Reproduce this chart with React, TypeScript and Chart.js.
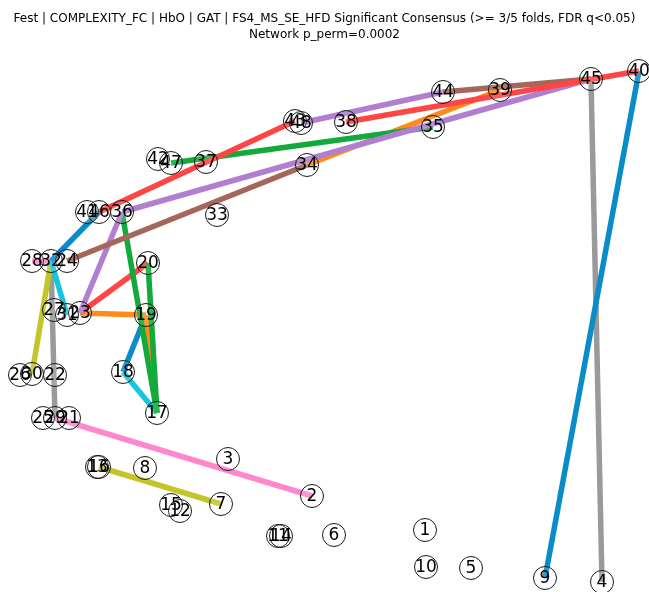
import React, { useEffect, useRef } from "react";
import { Chart, registerables } from "chart.js";

Chart.register(...registerables);

const WIDTH = 649;
const HEIGHT = 592;

const TITLE_LINES = [
  "Fest | COMPLEXITY_FC | HbO | GAT | FS4_MS_SE_HFD Significant Consensus (>= 3/5 folds, FDR q<0.05)",
  "Network p_perm=0.0002",
];
const TITLE_SIZE = 12;
const TITLE_LINE_HEIGHT = 1.4;
const TITLE_PAD_TOP = 10;
const PLOT_TOP = TITLE_PAD_TOP + TITLE_LINES.length * TITLE_SIZE * TITLE_LINE_HEIGHT;

// Node layout (channel id -> position in layout units)
const nodeIds = [
  1, 2, 3, 4, 5, 6, 7, 8, 9, 10, 11, 12, 13, 14, 15, 16, 17, 18, 19, 20, 21, 22, 23, 24,
  25, 26, 27, 28, 29, 30, 31, 32, 33, 34, 35, 36, 37, 38, 39, 40, 41, 42, 43, 44, 45, 46, 47, 48,
];
const nodeX = [
  425, 312, 228, 602, 471, 334, 221, 145, 545, 426, 278, 180, 97, 281, 171, 99, 157, 123, 146, 148, 69, 55, 80, 67,
  43, 20, 54, 32, 55, 32, 67, 51, 217, 307, 433, 122, 206, 346, 500, 639, 87, 158, 295, 443, 591, 99, 171, 301,
];
const nodeY = [
  530, 496, 459, 582, 568, 535, 504, 468, 578, 567, 536, 511, 467, 536, 505, 467, 413, 372, 315, 263, 418, 375, 313, 261,
  418, 375, 310, 261, 418, 374, 315, 261, 215, 165, 127, 212, 162, 122, 90, 71, 212, 159, 121, 92, 79, 212, 163, 123,
];

// Significant edges (source, target, colour)
const edgeFrom = [38, 40, 45, 44, 48, 36, 46, 47, 34, 24, 46, 36, 36, 20, 23, 23, 19, 19, 18, 32, 28, 32, 32, 29, 16];
const edgeTo = [40, 9, 4, 45, 44, 45, 43, 35, 39, 34, 32, 23, 17, 17, 20, 19, 17, 18, 17, 31, 32, 30, 29, 2, 7];
const edgeColors = [
  "#ff4545", "#0a8cc8", "#9a9a9a", "#a5665c", "#b07fd0", "#b07fd0", "#ff4545", "#12aa3a", "#ff8c1a",
  "#a5665c", "#0a8cc8", "#b07fd0", "#12aa3a", "#12aa3a", "#ff4545", "#ff8c1a", "#ff8c1a", "#0a8cc8",
  "#16c6dc", "#16c6dc", "#ff88cc", "#c4c52a", "#9a9a9a", "#ff88cc", "#c4c52a",
];

const pos = (id: number) => {
  const i = nodeIds.indexOf(id);
  return { x: nodeX[i], y: nodeY[i] };
};

const nodeLabels = {
  id: "nodeLabels",
  afterDatasetsDraw(chart: any) {
    const { ctx, scales } = chart;
    ctx.save();
    ctx.font = '17px "DejaVu Sans"';
    ctx.fillStyle = "#000";
    ctx.textAlign = "center";
    ctx.textBaseline = "middle";
    nodeIds.forEach((id, i) => {
      const px = scales.x.getPixelForValue(nodeX[i]);
      const py = scales.y.getPixelForValue(nodeY[i]);
      ctx.fillText(String(id), px, py + 1);
    });
    ctx.restore();
  },
};

export default function App() {
  const canvasRef = useRef<HTMLCanvasElement | null>(null);

  useEffect(() => {
    if (!canvasRef.current) return;
    const edgeSets = edgeFrom.map((a, k) => ({
      type: "line" as const,
      data: [pos(a), pos(edgeTo[k])],
      borderColor: edgeColors[k],
      borderWidth: 5.5,
      pointRadius: 0,
      showLine: true,
      fill: false,
      order: 1,
    }));
    const chart = new Chart(canvasRef.current, {
      type: "scatter",
      data: {
        datasets: [
          {
            data: nodeIds.map((_, i) => ({ x: nodeX[i], y: nodeY[i] })),
            pointRadius: 11.5,
            pointHoverRadius: 11.5,
            backgroundColor: "rgba(255,255,255,0.12)",
            borderColor: "#1a1a1a",
            borderWidth: 1,
            order: 0,
            clip: false,
          } as any,
          ...edgeSets,
        ],
      },
      options: {
        responsive: false,
        animation: false,
        layout: { padding: 0, autoPadding: false },
        events: [],
        scales: {
          x: { type: "linear", min: 0, max: WIDTH, display: false },
          y: { type: "linear", min: PLOT_TOP, max: HEIGHT, reverse: true, display: false },
        },
        plugins: {
          legend: { display: false },
          tooltip: { enabled: false },
          title: {
            display: true,
            text: TITLE_LINES,
            color: "#000",
            font: { family: '"DejaVu Sans"', size: TITLE_SIZE, weight: "normal", lineHeight: TITLE_LINE_HEIGHT },
            padding: { top: TITLE_PAD_TOP, bottom: 0 },
          },
        },
      },
      plugins: [nodeLabels],
    });
    return () => chart.destroy();
  }, []);

  return (
    <div style={{ position: "absolute", left: 0, top: 0, width: WIDTH, height: HEIGHT, background: "#fff" }}>
      <canvas ref={canvasRef} width={WIDTH} height={HEIGHT} style={{ display: "block" }} />
    </div>
  );
}
